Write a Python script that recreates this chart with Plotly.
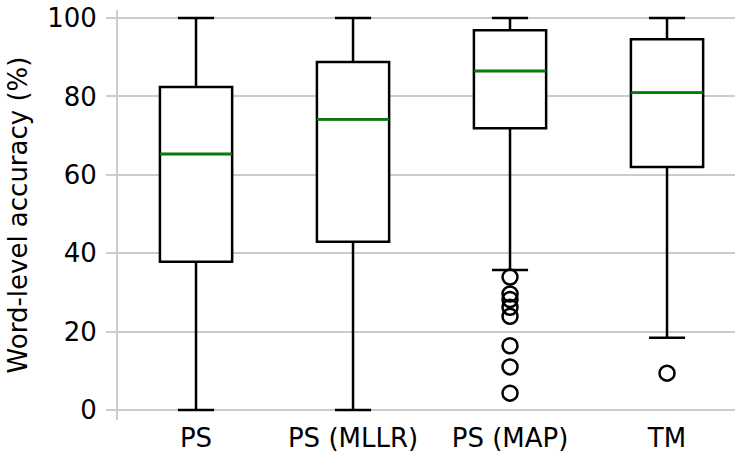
import plotly.graph_objects as go

categories = ["PS", "PS (MLLR)", "PS (MAP)", "TM"]
lower_whisker = [0.0, 0.0, 35.7, 18.4]
q1 = [37.8, 42.9, 71.9, 62.0]
median = [65.3, 74.2, 86.5, 80.9]
q3 = [82.4, 88.8, 96.9, 94.6]
upper_whisker = [100.0, 100.0, 100.0, 100.0]

outlier_group = [3, 3, 3, 3, 3, 3, 3, 3, 4]
outlier_value = [33.9, 29.6, 28.2, 26.2, 23.9, 16.4, 11.0, 4.3, 9.4]

yticks = [0, 20, 40, 60, 80, 100]

positions = [i + 1 for i in range(len(categories))]
box_w = 0.46
FONT = "DejaVu Sans"

fig = go.Figure()
fig.add_trace(go.Box(
    x=positions, q1=q1, median=median, q3=q3,
    lowerfence=lower_whisker, upperfence=upper_whisker,
    width=box_w, whiskerwidth=0.5, boxpoints=False,
    fillcolor="white", line=dict(color="black", width=2.5),
    showlegend=False, hoverinfo="skip",
))

mx, my = [], []
for p, m in zip(positions, median):
    mx += [p - box_w / 2, p + box_w / 2, None]
    my += [m, m, None]
fig.add_trace(go.Scatter(x=mx, y=my, mode="lines",
                         line=dict(color="#008000", width=2.5),
                         showlegend=False, hoverinfo="skip"))

fig.add_trace(go.Scatter(
    x=outlier_group, y=outlier_value, mode="markers",
    marker=dict(symbol="circle-open", size=15, color="black",
                line=dict(color="black", width=2.5)),
    showlegend=False, hoverinfo="skip"))

fig.update_layout(
    width=735, height=452,
    margin=dict(l=118, r=0, t=10, b=32),
    paper_bgcolor="white", plot_bgcolor="white",
    font=dict(family=FONT, size=26, color="black"),
    xaxis=dict(range=[0.503, 4.433], tickvals=positions, ticktext=categories,
               showgrid=False, zeroline=False, showline=False, ticks="",
               tickfont=dict(size=26)),
    yaxis=dict(range=[-2.55, 102.04], tickvals=yticks,
               showgrid=True, gridcolor="#cccccc", gridwidth=2,
               zeroline=False, showline=True, linecolor="#cccccc", linewidth=2,
               ticks="outside", ticklen=10, tickcolor="#cccccc", tickwidth=2,
               ticklabelstandoff=4,
               title=dict(text="Word-level accuracy (%)", font=dict(size=26),
                          standoff=12),
               tickfont=dict(size=26)),
)

fig.write_html("out.html")
